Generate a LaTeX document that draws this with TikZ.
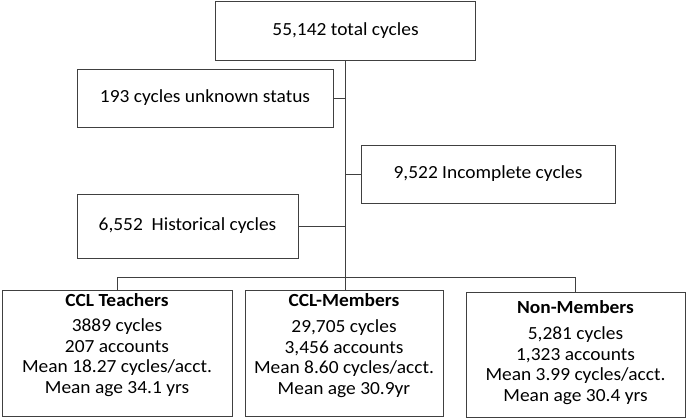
\documentclass[tikz,border=0pt]{standalone}
\usepackage{fontspec}
\setmainfont{Carlito}[FakeStretch=1.05]
\usetikzlibrary{positioning}

\tikzset{
  box/.style={draw=black!75, line width=0.9pt, align=center, font=\fontsize{18.5}{20.7}\selectfont},
  boxtext/.style={anchor=north, inner sep=0pt, align=center, font=\fontsize{18.5}{20.7}\selectfont},
  link/.style={draw=black!75, line width=0.9pt},
}

\begin{document}
\begin{tikzpicture}[x=1pt, y=-1pt]
    \useasboundingbox (0,0) rectangle (686,418);
    % upper boxes
    \node[box, minimum width=260pt, minimum height=59pt] (total) at (345.5,30.5) {55,142 total cycles};
    \node[box, minimum width=256pt, minimum height=58pt] (unknown) at (205,98) {193 cycles unknown status};
    \node[box, minimum width=254pt, minimum height=58pt] (incomplete) at (488,174) {9,522 Incomplete cycles};
    \node[box, minimum width=221pt, minimum height=64pt] (historical) at (187.5,226) {6,552\ \ Historical cycles};
    % lower boxes
    \node[box, minimum width=230pt, minimum height=126pt] (teach) at (117,353) {};
    \node[box, minimum width=198pt, minimum height=126pt] (member) at (344,353) {};
    \node[box, minimum width=219pt, minimum height=125pt] (nonmember) at (575.5,354.5) {};
    \node[boxtext, yshift=-4pt] (teachtext) at (teach.north) {\textbf{CCL Teachers}\\[4pt]3889 cycles\\207 accounts\\Mean 18.27 cycles/acct.\\Mean age 34.1 yrs};
    \node[boxtext, yshift=-4pt] (membertext) at (member.north) {\textbf{CCL-Members}\\[5pt]29,705 cycles\\3,456 accounts\\Mean 8.60 cycles/acct.\\Mean age 30.9yr};
    \node[boxtext, yshift=-9pt] (nonmembertext) at (nonmember.north) {\textbf{Non-Members}\\[5pt]5,281 cycles\\1,323 accounts\\Mean 3.99 cycles/acct.\\Mean age 30.4 yrs};
    % connectors
    \coordinate (split) at (345.5,277);
    \draw[link] (total.south) -- (split);
    \draw[link] (unknown.east) -- (unknown.east -| split);
    \draw[link] (incomplete.west) -- (incomplete.west -| split);
    \draw[link] (historical.east) -- (historical.east -| split);
    \draw[link] (teach.north |- split) -- (nonmember.north |- split);
    \foreach \b in {teach, nonmember} \draw[link] (\b.north |- split) -- (\b.north);
    \draw[link] (split) -- (split |- member.north);
\end{tikzpicture}
\end{document}
